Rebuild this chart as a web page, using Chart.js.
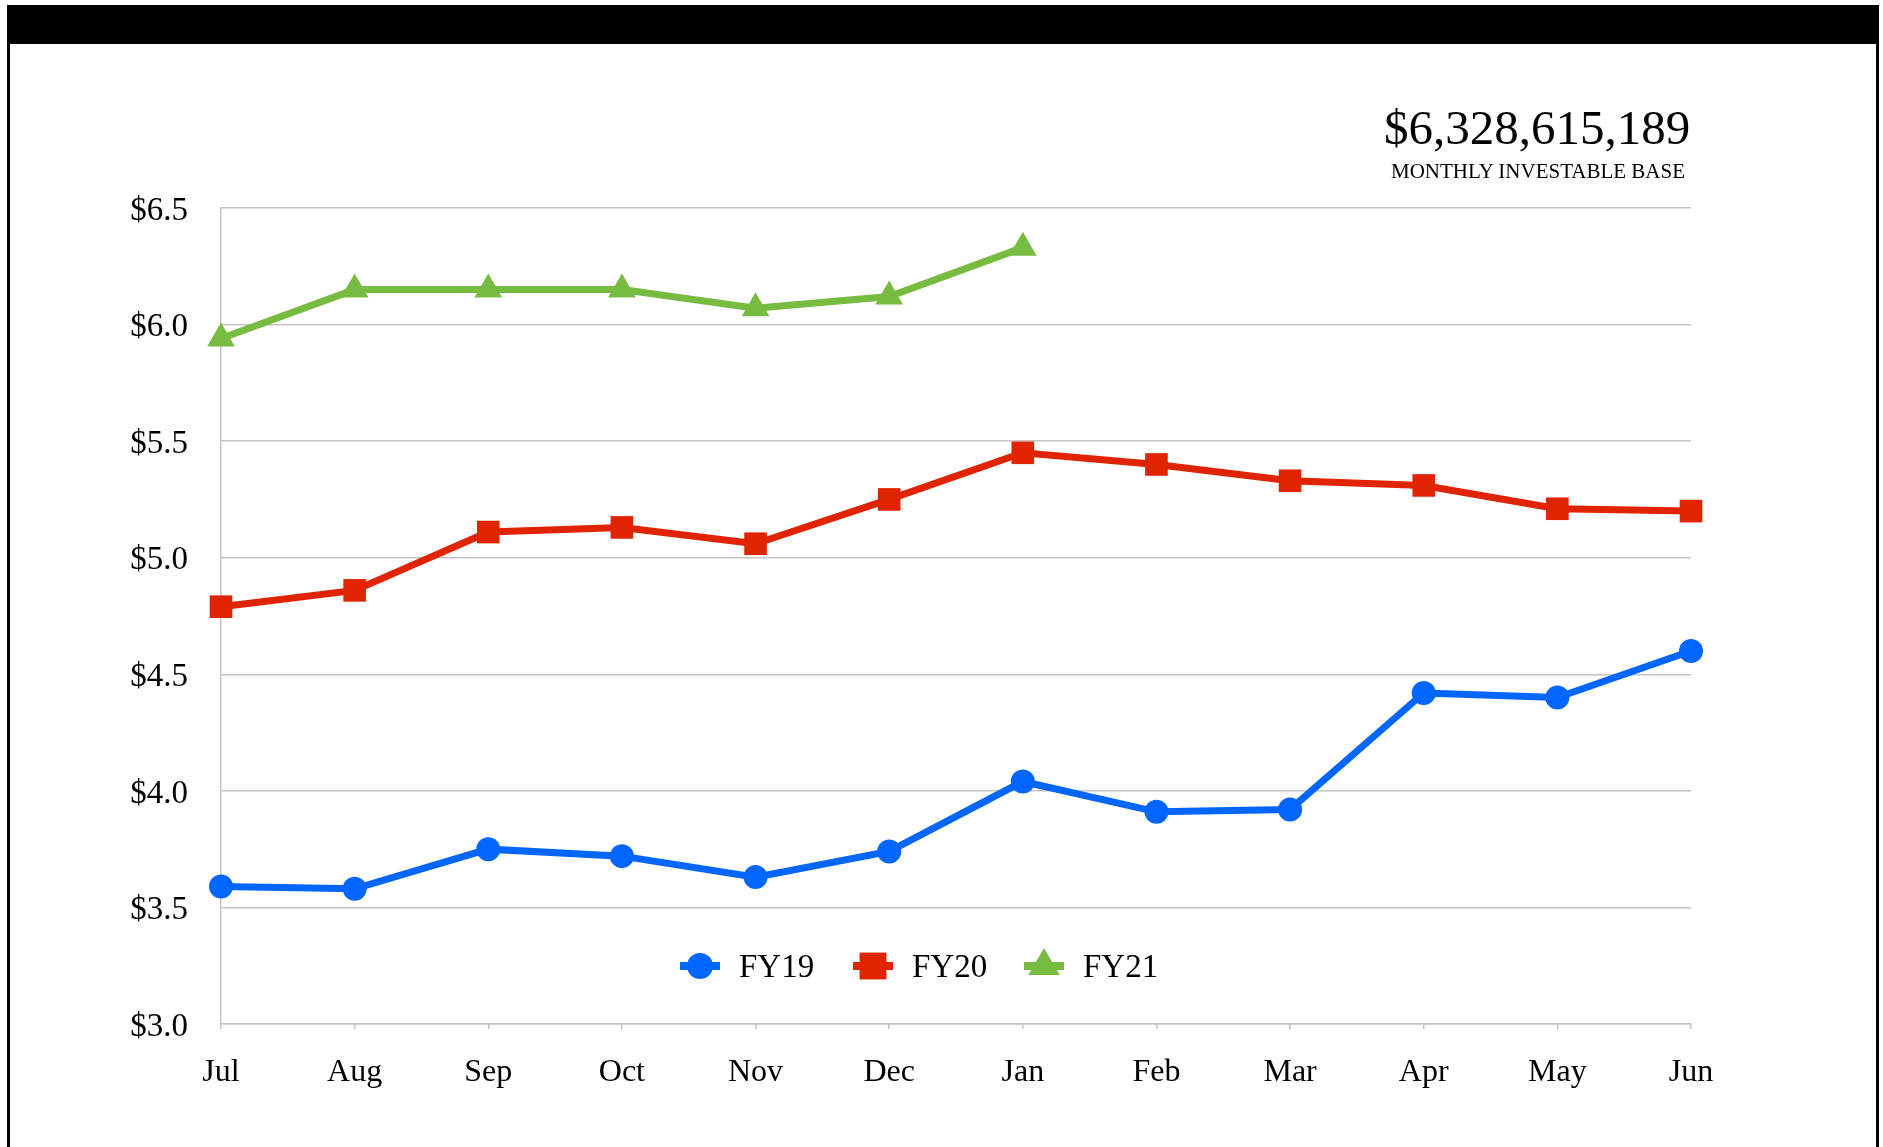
<!DOCTYPE html>
<html>
<head>
<meta charset="utf-8">
<script src="https://cdn.jsdelivr.net/npm/chart.js@4.4.1/dist/chart.umd.min.js"></script>
<style>
  html, body { margin: 0; padding: 0; background: #fff; overflow: hidden; }
  #wrap { position: relative; width: 1883px; height: 1147px; }
  #grafico { position: absolute; left: 0; top: 0; }
  .barra { position: absolute; left: 7px; top: 5px; width: 1872px; height: 39px; background: #000; }
  .borda { position: absolute; top: 40px; width: 3px; height: 1107px; background: #000; }
  .titulo { position: absolute; font-family: "Liberation Serif", serif; color: #000; white-space: nowrap; line-height: 1; transform: translateX(-50%); }
</style>
</head>
<body>
<div id="wrap">
  <canvas id="grafico" width="1883" height="1147"></canvas>
  <div class="barra"></div>
  <div class="borda" style="left:7px"></div>
  <div class="borda" style="left:1876px"></div>
  <div class="titulo" style="left:1537px; top:103px; font-size:49px;">$6,328,615,189</div>
  <div class="titulo" style="left:1538px; top:161px; font-size:21px;">MONTHLY INVESTABLE BASE</div>
</div>
<script>
// Meses do ano fiscal (jul a jun)
const meses = ['Jul', 'Aug', 'Sep', 'Oct', 'Nov', 'Dec', 'Jan', 'Feb', 'Mar', 'Apr', 'May', 'Jun'];

// Base investível mensal em bilhões de dólares
const fy19 = [3.59, 3.58, 3.75, 3.72, 3.63, 3.74, 4.04, 3.91, 3.92, 4.42, 4.40, 4.60];
const fy20 = [4.79, 4.86, 5.11, 5.13, 5.06, 5.25, 5.45, 5.40, 5.33, 5.31, 5.21, 5.20];
const fy21 = [5.94, 6.15, 6.15, 6.15, 6.07, 6.12, 6.33];

const yMin = 3.0;
const yMax = 6.5;
const yStep = 0.5;

const fonte = '"Liberation Serif", serif';
const cinza = '#c4c4c4';

// Legenda desenhada dentro da área do gráfico (estilo Excel: linha + marcador)
const legendaInterna = {
    id: 'legendaInterna',
    afterDraw(chart) {
        const ctx = chart.ctx;
        const area = chart.chartArea;
        const y = area.bottom - 58;
        const inicios = [459, 632, 803];
        ctx.save();
        chart.data.datasets.forEach((ds, i) => {
            const x0 = area.left + inicios[i];
            ctx.strokeStyle = ds.borderColor;
            ctx.lineWidth = 8;
            ctx.beginPath();
            ctx.moveTo(x0, y);
            ctx.lineTo(x0 + 40, y);
            ctx.stroke();
            ctx.fillStyle = ds.borderColor;
            Chart.helpers.drawPoint(ctx, {
                pointStyle: ds.pointStyle,
                radius: ds.legendRadius,
                rotation: 0,
                borderWidth: 0
            }, x0 + 20, y);
            ctx.fillStyle = '#000';
            ctx.font = '33px ' + fonte;
            ctx.textBaseline = 'alphabetic';
            ctx.textAlign = 'left';
            ctx.fillText(ds.label, x0 + 59, y + 11);
        });
        ctx.restore();
    }
};

new Chart(document.getElementById('grafico'), {
    type: 'line',
    data: {
        labels: meses,
        datasets: [
            {
                label: 'FY19',
                data: fy19,
                borderColor: 'rgb(0, 102, 255)',
                backgroundColor: 'rgb(0, 102, 255)',
                pointStyle: 'circle',
                pointRadius: 12,
                legendRadius: 13
            },
            {
                label: 'FY20',
                data: fy20,
                borderColor: 'rgb(225, 36, 0)',
                backgroundColor: 'rgb(225, 36, 0)',
                pointStyle: 'rect',
                pointRadius: 16,
                legendRadius: 19
            },
            {
                label: 'FY21',
                data: fy21,
                borderColor: 'rgb(120, 187, 65)',
                backgroundColor: 'rgb(120, 187, 65)',
                pointStyle: 'triangle',
                pointRadius: 16,
                legendRadius: 18
            }
        ].map(ds => Object.assign(ds, {
            borderWidth: 7,
            pointBorderWidth: 0,
            pointHoverRadius: ds.pointRadius,
            tension: 0,
            fill: false,
            clip: false
        }))
    },
    options: {
        responsive: false,
        animation: false,
        layout: {
            padding: { left: 0, right: 192, top: 208, bottom: 23 }
        },
        scales: {
            x: {
                offset: false,
                grid: {
                    display: true,
                    drawOnChartArea: false,
                    drawTicks: true,
                    tickLength: 5,
                    color: cinza,
                    lineWidth: 1.5
                },
                border: { display: true, color: cinza, width: 1.5 },
                ticks: {
                    color: '#000',
                    padding: 24,
                    maxRotation: 0,
                    autoSkip: false,
                    font: { family: fonte, size: 32 }
                },
                afterFit(scale) { scale.height = 100; }
            },
            y: {
                min: yMin,
                max: yMax,
                grid: {
                    color: cinza,
                    lineWidth: 1.5,
                    drawTicks: false
                },
                border: { display: true, color: cinza, width: 1.5 },
                ticks: {
                    stepSize: yStep,
                    color: '#000',
                    padding: 33,
                    labelOffset: 3,
                    font: { family: fonte, size: 33 },
                    callback: v => '$' + Number(v).toFixed(1)
                },
                afterFit(scale) { scale.width = 221; }
            }
        },
        plugins: {
            legend: { display: false },
            tooltip: { enabled: false }
        }
    },
    plugins: [legendaInterna]
});
</script>
</body>
</html>
